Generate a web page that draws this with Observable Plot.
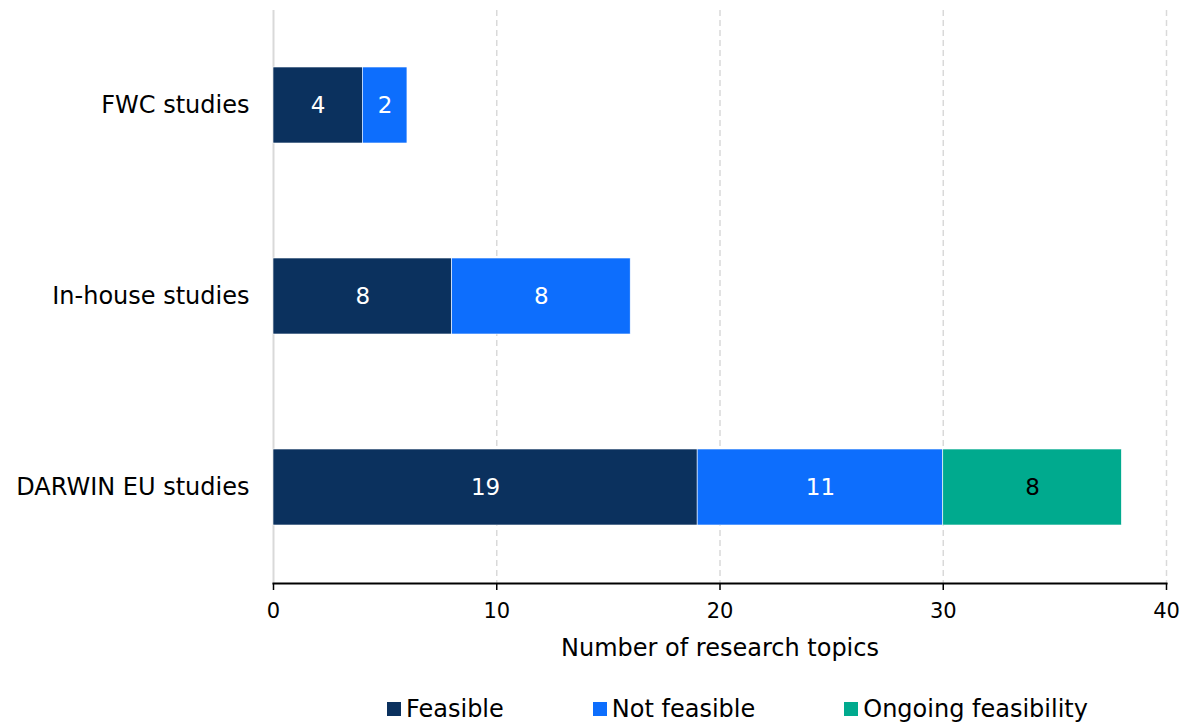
<!DOCTYPE html>
<html>
<head>
<meta charset="utf-8">
<script src="https://cdn.jsdelivr.net/npm/d3@7"></script>
<script src="https://cdn.jsdelivr.net/npm/@observablehq/plot@0.6"></script>
<style>
  html, body { margin: 0; padding: 0; background: #fff; }
  #chart { width: 1183px; }
  .legend { display: flex; align-items: center; gap: 89px; margin-left: 387px; margin-top: 30px;
            font-family: "DejaVu Sans", sans-serif; font-size: 24px; line-height: 28px; color: #000; }
  .legend .item { display: flex; align-items: center; gap: 5px; }
  .legend .sw { width: 14px; height: 14px; display: inline-block; }
</style>
</head>
<body>
<div id="chart"></div>
<script>
const categories = ["FWC studies", "In-house studies", "DARWIN EU studies"];
const seriesNames = ["Feasible", "Not feasible", "Ongoing feasibility"];
const feasible = [4, 8, 19];
const notFeasible = [2, 8, 11];
const ongoing = [0, 0, 8];
const colors = ["#0b315e", "#0d6efd", "#00aa8e"];
const labelColors = ["#ffffff", "#ffffff", "#000000"];
const xTicks = [0, 10, 20, 30, 40];
const xLabel = "Number of research topics";

const seriesValues = [feasible, notFeasible, ongoing];
const rows = [];
seriesNames.forEach((s, si) => {
  categories.forEach((c, ci) => {
    rows.push({category: c, series: s, value: seriesValues[si][ci], label: labelColors[si]});
  });
});
const shown = rows.filter(d => d.value > 0);

const normalFont = "DejaVu Sans, sans-serif";

const chart = Plot.plot({
  width: 1183,
  height: 665,
  marginLeft: 273,
  marginRight: 17,
  marginTop: 10,
  marginBottom: 82,
  style: {fontFamily: normalFont, fontSize: "24px", color: "#000", background: "#fff"},
  x: {domain: [0, 40]},
  y: {domain: categories, paddingInner: 0.6, paddingOuter: 0.3},
  color: {domain: seriesNames, range: colors},
  marks: [
    Plot.ruleX(xTicks.filter(t => t > 0), {stroke: "#d9d9d9", strokeWidth: 1.5, strokeDasharray: "6,4"}),
    Plot.ruleX([0], {stroke: "#d9d9d9", strokeWidth: 2}),
    Plot.barX(shown, Plot.stackX({
      x: "value", y: "category", fill: "series", order: seriesNames,
      stroke: "#ffffff", strokeWidth: 0.6
    })),
    Plot.text(shown, Plot.stackX({
      x: "value", y: "category", order: seriesNames, text: d => String(d.value),
      fill: "label", fontSize: 23, textAnchor: "middle"
    })),
    Plot.frame({anchor: "bottom", stroke: "#000", strokeWidth: 2}),
    Plot.axisX({
      ticks: xTicks, tickSize: 7, tickPadding: 13, tickFormat: d => String(d),
      stroke: "#000", strokeWidth: 1.5, label: null, fontSize: 21
    }),
    Plot.axisY({tickSize: 0, tickPadding: 24, label: null, fontSize: 24}),
    Plot.text([xLabel], {frameAnchor: "bottom", dy: 65, lineAnchor: "middle", fontSize: 24})
  ]
});

document.getElementById("chart").appendChild(chart);

const legend = document.createElement("div");
legend.className = "legend";
seriesNames.forEach((s, i) => {
  const item = document.createElement("div");
  item.className = "item";
  const sw = document.createElement("span");
  sw.className = "sw";
  sw.style.background = colors[i];
  const t = document.createElement("span");
  t.textContent = s;
  item.appendChild(sw);
  item.appendChild(t);
  legend.appendChild(item);
});
document.getElementById("chart").appendChild(legend);
</script>
</body>
</html>
